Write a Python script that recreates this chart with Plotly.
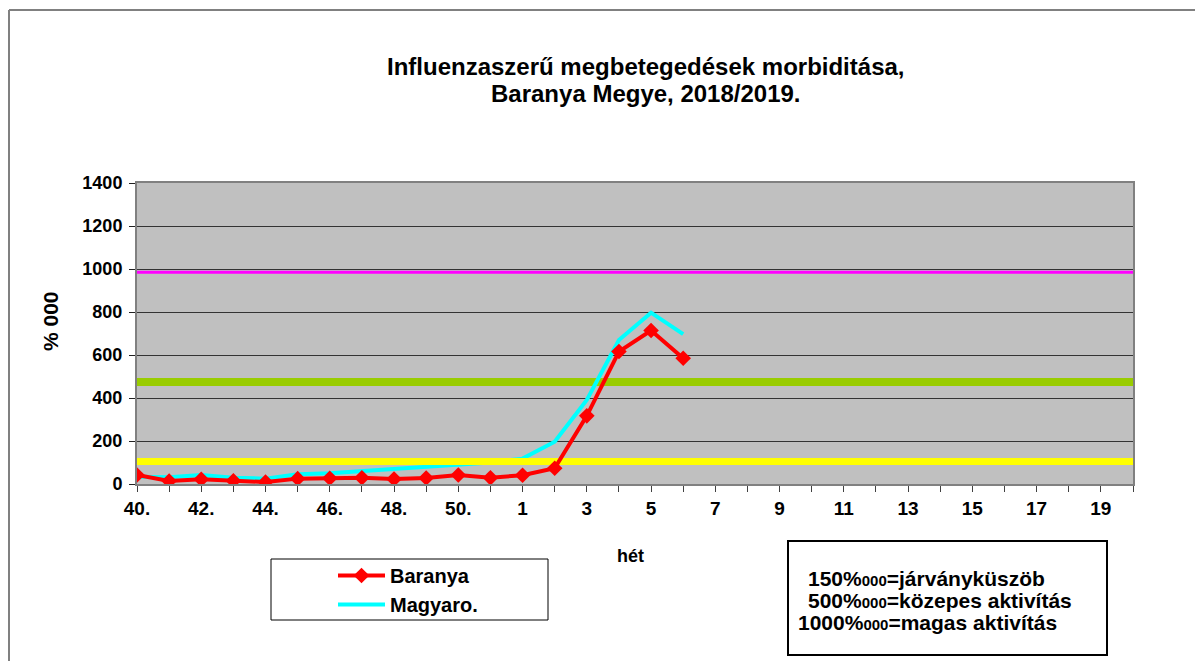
import plotly.graph_objects as go

# ---- data ----
weeks = ["40.", "41.", "42.", "43.", "44.", "45.", "46.", "47.", "48.", "49.", "50.", "51.",
         "1", "2", "3", "4", "5", "6", "7", "8", "9", "10", "11", "12", "13", "14", "15",
         "16", "17", "18", "19", "20"]
baranya = [42, 14, 22, 15, 9, 25, 27, 29, 23, 28, 42, 29, 41, 73, 317, 616, 714, 585]
magyaro = [34, 31, 42, 29, 25, 45, 50, 60, 68, 76, 90, 100, 118, 197, 391, 670, 797, 697]
threshold_names = ["magas", "közepes", "küszöb"]
threshold_values = [985, 474, 105]
y_ticks = [0, 200, 400, 600, 800, 1000, 1200, 1400]

FONT = "Arial, 'Liberation Sans', sans-serif"

# the page body has an 8px margin, so the figure starts at page (8, 8)
OFF = 8
W, H = 1203 - OFF, 661 - OFF
L, T = 137 - OFF, 183 - OFF
R = W - (1133 - OFF)
B = H - (484 - OFF)
PW, PH = W - L - R, H - T - B


def px(x):  # page pixel x -> paper
    return (x - OFF - L) / PW


def py(y):  # page pixel y -> paper
    return (H - B - (y - OFF)) / PH


fig = go.Figure()

thr_styles = [dict(color="#FF00FF", width=3), dict(color="#99CC00", width=8), dict(color="#FFFF00", width=7)]

for name, val, st in list(zip(threshold_names, threshold_values, thr_styles))[:2]:
    fig.add_trace(go.Scatter(x=[weeks[0], weeks[-1]], y=[val, val], mode="lines",
                             line=st, showlegend=False, hoverinfo="skip", name=name))

fig.add_trace(go.Scatter(x=weeks[:len(magyaro)], y=magyaro, mode="lines", name="Magyaro.",
                         line=dict(color="#00FFFF", width=4), legendrank=2))

name, val, st = threshold_names[2], threshold_values[2], thr_styles[2]
fig.add_trace(go.Scatter(x=[weeks[0], weeks[-1]], y=[val, val], mode="lines",
                         line=st, showlegend=False, hoverinfo="skip", name=name))

fig.add_trace(go.Scatter(x=weeks[:len(baranya)], y=baranya, mode="lines+markers", name="Baranya",
                         line=dict(color="#FF0000", width=4),
                         marker=dict(symbol="diamond", size=12, color="#FF0000"), legendrank=1))

ticktext = [w if i % 2 == 0 else "" for i, w in enumerate(weeks)]

fig.update_layout(
    width=W, height=H,
    margin=dict(l=L, r=R, t=T, b=B, pad=0),
    paper_bgcolor="white",
    plot_bgcolor="#C0C0C0",
    font=dict(family=FONT, color="black", size=18),
    showlegend=True,
    legend=dict(x=px(333), y=py(556), xanchor="left", yanchor="top",
                bgcolor="rgba(0,0,0,0)", borderwidth=0,
                font=dict(family=FONT, size=20, color="black", weight="bold"),
                itemwidth=47, tracegroupgap=0),
    xaxis=dict(type="category", categoryorder="array", categoryarray=weeks,
               range=[0, len(weeks) - 1], tickmode="array", tickvals=weeks, ticktext=ticktext,
               ticks="outside", ticklen=6, tickcolor="#404040", tickwidth=1,
               showgrid=False, showline=True, linecolor="#808080", linewidth=2, mirror=True,
               tickfont=dict(family=FONT, size=19, color="black", weight="bold"),
               zeroline=False),
    yaxis=dict(range=[0, 1400], tickmode="array", tickvals=y_ticks,
               ticks="outside", ticklen=6, tickcolor="#202020", ticklabelstandoff=3,
               showgrid=True, gridcolor="#333333", gridwidth=1,
               showline=True, linecolor="#808080", linewidth=2, mirror=True,
               tickfont=dict(family=FONT, size=18, color="black", weight="bold"),
               zeroline=False),
)

annotations = [
    dict(text="<b>Influenzaszerű megbetegedések morbiditása,</b>",
         x=px(646), y=py(67), xref="paper", yref="paper", showarrow=False,
         font=dict(family=FONT, size=24), xanchor="center", yanchor="middle"),
    dict(text="<b>Baranya Megye, 2018/2019.</b>",
         x=px(646), y=py(94), xref="paper", yref="paper", showarrow=False,
         font=dict(family=FONT, size=24), xanchor="center", yanchor="middle"),
    dict(text="<b>% 000</b>", x=px(50), y=py(321), xref="paper", yref="paper", showarrow=False,
         textangle=-90, font=dict(family=FONT, size=21), xanchor="center", yanchor="middle"),
    dict(text="<b>hét</b>", x=px(630), y=py(556), xref="paper", yref="paper", showarrow=False,
         font=dict(family=FONT, size=18), xanchor="center", yanchor="middle"),
]
box_lines = [("150", "járványküszöb", 806), ("500", "közepes aktivítás", 806),
             ("1000", "magas aktivítás", 796)]
for i, (num, txt, x0) in enumerate(box_lines):
    annotations.append(dict(
        text=f"<b>{num}%<span style='font-size:15px'>000</span>={txt}</b>",
        x=px(x0), y=py(578 + 22 * i), xref="paper", yref="paper", showarrow=False,
        font=dict(family=FONT, size=21), xanchor="left", yanchor="middle", align="left"))
fig.update_layout(annotations=annotations)

shapes = [
    dict(type="rect", xref="paper", yref="paper", x0=px(271), x1=px(548), y0=py(559), y1=py(620),
         line=dict(color="black", width=1), fillcolor="white", layer="below"),
    dict(type="rect", xref="paper", yref="paper", x0=px(788), x1=px(1107), y0=py(541), y1=py(655),
         line=dict(color="black", width=2), fillcolor="rgba(0,0,0,0)"),
    dict(type="line", xref="paper", yref="paper", x0=px(9), x1=px(1215), y0=py(10), y1=py(10),
         line=dict(color="#808080", width=2)),
    dict(type="line", xref="paper", yref="paper", x0=px(9), x1=px(9), y0=py(10), y1=py(680),
         line=dict(color="#808080", width=2)),
]
fig.update_layout(shapes=shapes)

fig.write_html("out.html")
